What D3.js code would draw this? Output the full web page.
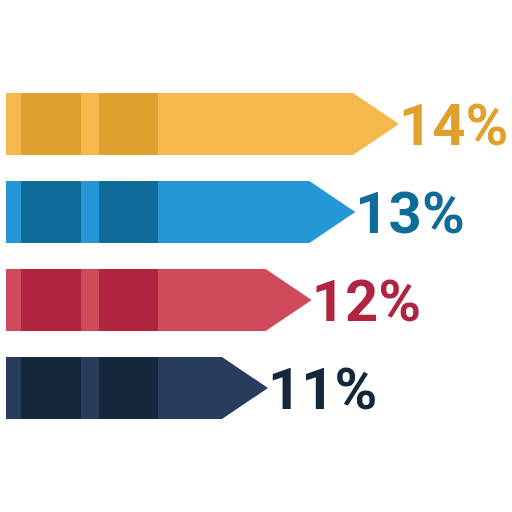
<!DOCTYPE html>
<html>
<head>
<meta charset="utf-8">
<script src="https://cdn.jsdelivr.net/npm/d3@7"></script>
<style>
  html, body { margin: 0; padding: 0; background: #fff; }
  svg { display: block; }
</style>
</head>
<body>
<svg id="chart"></svg>
<script>
const labels = ["14%", "13%", "12%", "11%"];
const values = [14, 13, 12, 11];
const lightColors = ["#f5b84d", "#2596d6", "#cf4a5a", "#283d5c"];
const darkColors = ["#e0a02d", "#0f6b98", "#b0243f", "#15273a"];

const width = 512;
const height = 512;
const left = 6;
const tipLen = 46;

// tip position of each arrow
const x = d3.scaleLinear()
    .domain([11, 14])
    .range([268, 399]);

const y = d3.scaleBand()
    .domain(labels)
    .range([93, 419])
    .paddingInner(0.2955)
    .paddingOuter(0);

const svg = d3.select("#chart")
    .attr("width", width)
    .attr("height", height)
    .attr("viewBox", [0, 0, width, height]);

const rows = svg.selectAll("g.row")
    .data(values)
    .join("g")
    .attr("class", "row")
    .attr("transform", (d, i) => `translate(0,${y(labels[i])})`);

const h = y.bandwidth();

rows.append("path")
    .attr("fill", (d, i) => lightColors[i])
    .attr("d", d => {
        const tip = x(d);
        return `M${left},0H${tip - tipLen}L${tip},${h / 2}L${tip - tipLen},${h}H${left}Z`;
    });

// darker stripes
const stripes = [[21, 81], [99, 158]];
rows.each(function(d, i) {
    d3.select(this).selectAll("rect")
        .data(stripes)
        .join("rect")
        .attr("x", s => s[0])
        .attr("width", s => s[1] - s[0])
        .attr("y", 0)
        .attr("height", h)
        .attr("fill", darkColors[i]);
});

rows.append("text")
    .attr("x", d => x(d) + 0)
    .attr("y", h / 2 + 21)
    .attr("fill", (d, i) => darkColors[i])
    .style("font", "bold 58px Roboto, sans-serif")
    .text((d, i) => labels[i]);
</script>
</body>
</html>
